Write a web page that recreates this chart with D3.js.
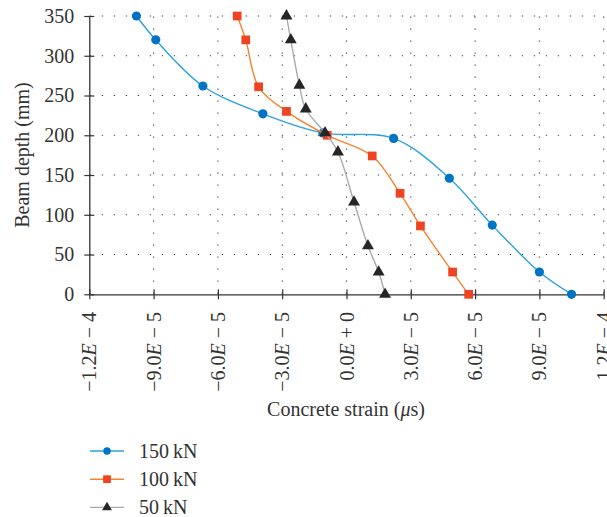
<!DOCTYPE html>
<html>
<head>
<meta charset="utf-8">
<script src="https://cdn.jsdelivr.net/npm/d3@7"></script>
<style>
  html, body { margin: 0; padding: 0; background: #fff; }
  svg { display: block; }
  text { font-family: "Liberation Serif", "Times New Roman", serif; fill: #333; }
</style>
</head>
<body>
<svg id="chart" width="607" height="517"></svg>
<script>
// Strain profiles along the beam depth for three load levels
const seriesNames = ["150 kN", "100 kN", "50 kN"];

const depth150 = [350, 320, 262, 227, 203, 196, 146, 87, 28, 0];
const strain150 = [-9.8e-5, -8.9e-5, -6.7e-5, -3.9e-5, -1.1e-5, 2.2e-5, 4.8e-5, 6.8e-5, 9.0e-5, 10.5e-5];

const depth100 = [350, 320, 261, 230, 200, 174, 127, 86, 28, 0];
const strain100 = [-5.1e-5, -4.7e-5, -4.1e-5, -2.8e-5, -0.9e-5, 1.2e-5, 2.5e-5, 3.45e-5, 4.95e-5, 5.7e-5];

const depth50 = [350, 320, 263, 233, 203, 179, 116, 61, 28, 0];
const strain50 = [-2.8e-5, -2.6e-5, -2.2e-5, -1.9e-5, -1.0e-5, -0.4e-5, 0.35e-5, 1.0e-5, 1.5e-5, 1.8e-5];

const xTickValues = [-12e-5, -9e-5, -6e-5, -3e-5, 0, 3e-5, 6e-5, 9e-5, 12e-5];
const xTickLabels = ["−1.2E − 4", "−9.0E − 5", "−6.0E − 5", "−3.0E − 5", "0.0E + 0",
                     "3.0E − 5", "6.0E − 5", "9.0E − 5", "1.2E − 4"];
const yTickValues = [0, 50, 100, 150, 200, 250, 300, 350];

const svg = d3.select("#chart");
const x = d3.scaleLinear().domain([-12e-5, 12e-5]).range([89.3, 603.7]);
const y = d3.scaleLinear().domain([0, 350]).range([294.3, 16]);

const axisColor = "#333";
const fontSize = 20;

// dotted grid
const grid = svg.append("g").attr("stroke", "#444").attr("stroke-width", 1.1)
  .attr("stroke-dasharray", "1.3,10.7");
grid.selectAll("line.h").data(yTickValues.filter(v => v > 0)).join("line")
  .attr("class", "h")
  .attr("x1", x.range()[0] + 0.5).attr("x2", x.range()[1])
  .attr("y1", d => y(d)).attr("y2", d => y(d));
grid.selectAll("line.v").data(xTickValues.slice(1)).join("line")
  .attr("class", "v")
  .attr("x1", d => x(d)).attr("x2", d => x(d))
  .attr("y1", y(0) - 0.5).attr("y2", y(350));

// x axis
const gx = svg.append("g").attr("transform", `translate(0,${y(0)})`)
  .call(d3.axisBottom(x).tickValues(xTickValues).tickSizeOuter(0).tickFormat(""));
gx.select(".domain").attr("stroke", axisColor).attr("stroke-width", 1.3);
gx.selectAll(".tick line").attr("stroke", axisColor).attr("stroke-width", 1.2)
  .attr("y1", -5).attr("y2", 5);

// rotated tick labels with italic E
xTickValues.forEach((v, i) => {
  const label = xTickLabels[i];
  const k = label.indexOf("E");
  const t = svg.append("text")
    .attr("transform", `translate(${x(v)},312) rotate(-90)`)
    .attr("text-anchor", "end")
    .attr("dy", "0.35em")
    .attr("font-size", fontSize);
  t.append("tspan").text(label.slice(0, k));
  t.append("tspan").attr("font-style", "italic").text("E");
  t.append("tspan").text(label.slice(k + 1));
});

// y axis
const gy = svg.append("g").attr("transform", `translate(${x.range()[0]},0)`)
  .call(d3.axisLeft(y).tickValues(yTickValues).tickSizeOuter(0));
gy.select(".domain").attr("stroke", axisColor).attr("stroke-width", 1.3);
gy.selectAll(".tick line").attr("stroke", axisColor).attr("stroke-width", 1.2)
  .attr("x1", -5).attr("x2", 5);
gy.selectAll(".tick text").attr("x", -15).attr("font-size", fontSize)
  .attr("font-family", "Liberation Serif, serif").attr("fill", "#333");

// axis titles
svg.append("text")
  .attr("x", 346).attr("y", 416)
  .attr("text-anchor", "middle").attr("font-size", fontSize)
  .call(t => {
    t.append("tspan").text("Concrete strain (");
    t.append("tspan").attr("font-style", "italic").text("μ");
    t.append("tspan").text("s)");
  });

svg.append("text")
  .attr("transform", "translate(29,155) rotate(-90)")
  .attr("text-anchor", "middle").attr("font-size", fontSize)
  .text("Beam depth (mm)");

// series
const series = [
  { name: seriesNames[0], depth: depth150, strain: strain150, line: "#2aa3dd", mark: "#0073c4", symbol: d3.symbolCircle, size: 66, legendSize: 44 },
  { name: seriesNames[1], depth: depth100, strain: strain100, line: "#f5832b", mark: "#ee4423", symbol: d3.symbolSquare, size: 76, legendSize: 60 },
  { name: seriesNames[2], depth: depth50, strain: strain50, line: "#aaaaaa", mark: "#262626", symbol: d3.symbolTriangle, size: 62, legendSize: 42 }
];

const line = d3.line()
  .x(d => x(d[0])).y(d => y(d[1]))
  .curve(d3.curveCatmullRom.alpha(0.5));

series.forEach(s => {
  const pts = s.strain.map((v, i) => [v, s.depth[i]]);
  svg.append("path").datum(pts)
    .attr("d", line)
    .attr("fill", "none").attr("stroke", s.line).attr("stroke-width", 1.4);
  svg.append("g").selectAll("path").data(pts).join("path")
    .attr("transform", d => `translate(${x(d[0])},${y(d[1])})`)
    .attr("d", d3.symbol(s.symbol, s.size))
    .attr("fill", s.mark);
});

// legend
const legend = svg.append("g");
series.forEach((s, i) => {
  const ly = 451 + i * 28.2;
  legend.append("line")
    .attr("x1", 90).attr("x2", 124).attr("y1", ly).attr("y2", ly)
    .attr("stroke", s.line).attr("stroke-width", 1.4);
  legend.append("path")
    .attr("transform", `translate(107,${ly})`)
    .attr("d", d3.symbol(s.symbol, s.legendSize))
    .attr("fill", s.mark);
  legend.append("text")
    .attr("x", 139).attr("y", ly + 6.5)
    .attr("font-size", fontSize)
    .text(s.name.replace(" ", "\u2009"));
});
</script>
</body>
</html>
